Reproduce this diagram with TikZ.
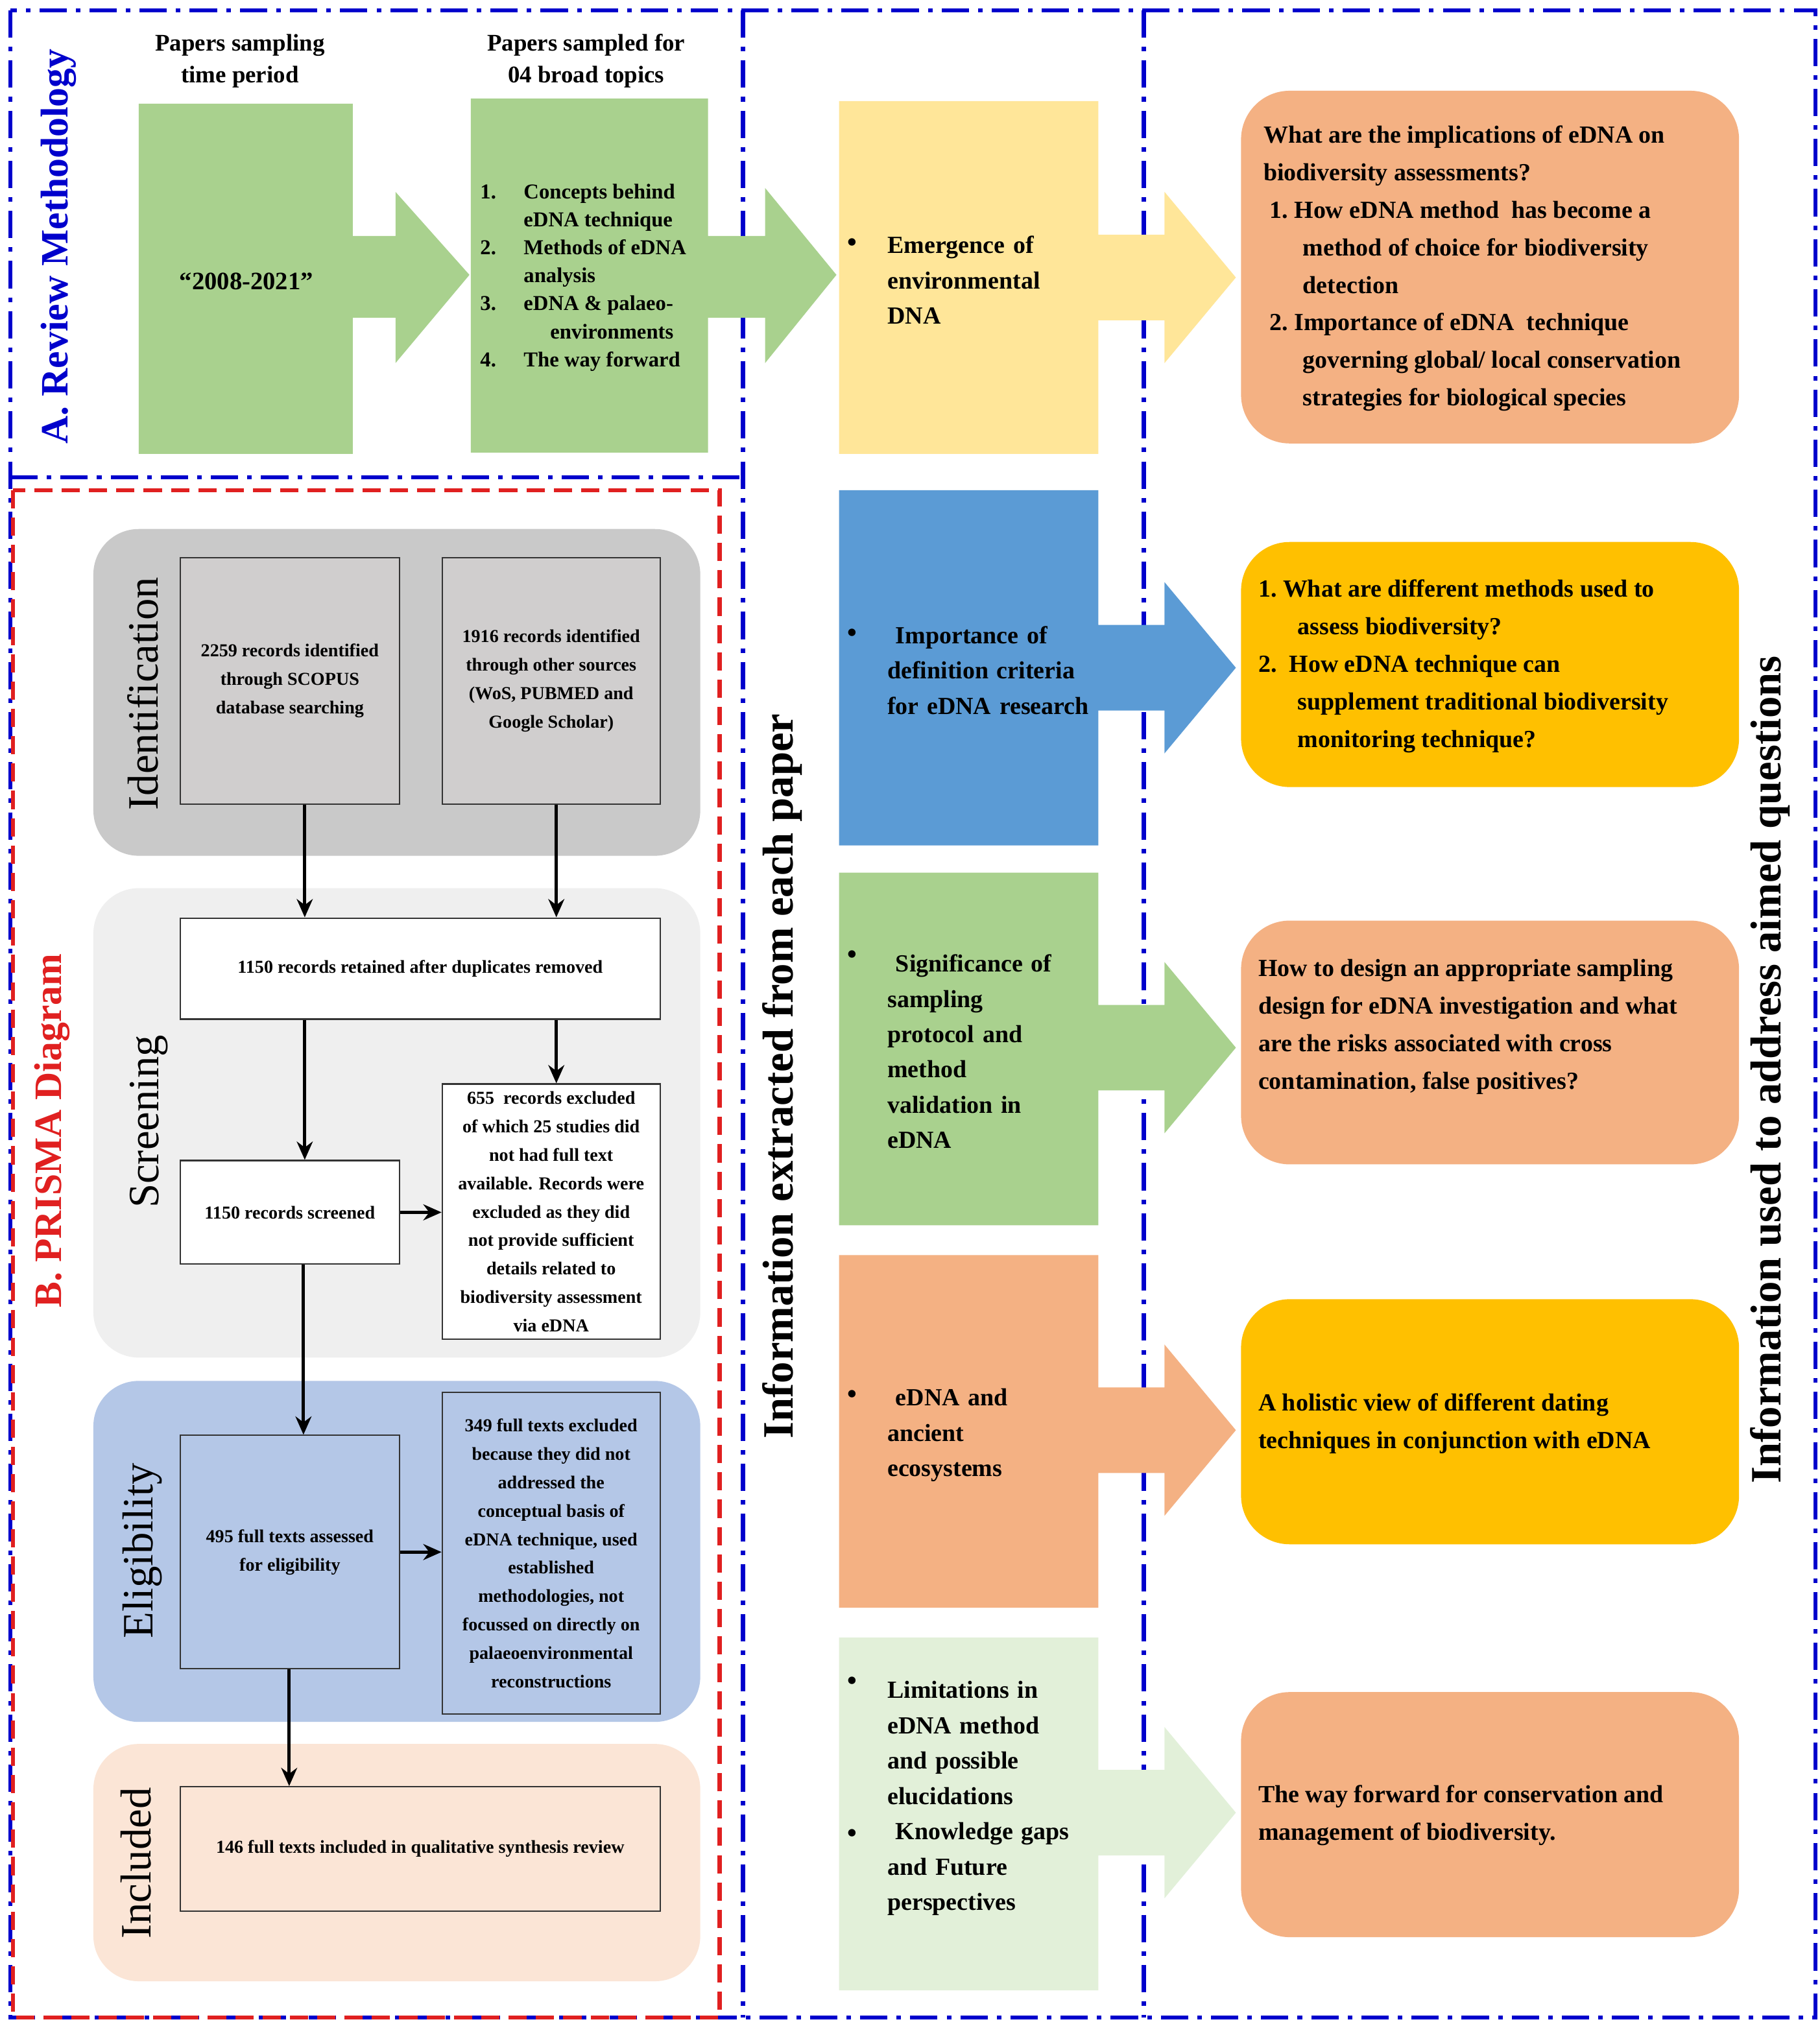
\documentclass[tikz,border=0pt]{standalone}
\usepackage{fontspec}
\setmainfont{Liberation Serif}
\usetikzlibrary{arrows.meta}
\definecolor{cgreen}{HTML}{A9D18E}
\definecolor{cyellow}{HTML}{FFE699}
\definecolor{cblue}{HTML}{5B9BD5}
\definecolor{corange}{HTML}{F4B183}
\definecolor{cgold}{HTML}{FFC000}
\definecolor{clgreen}{HTML}{E2F0D9}
\definecolor{fblue}{HTML}{0000CC}
\definecolor{fred}{HTML}{E02020}
\definecolor{bgray}{HTML}{C9C9C9}
\definecolor{blgray}{HTML}{EFEFEF}
\definecolor{bblue}{HTML}{B4C7E7}
\definecolor{bpeach}{HTML}{FBE5D6}
\definecolor{boxgray}{HTML}{D0CECE}
\begin{document}
\begin{tikzpicture}[x=0.02cm,y=-0.02cm,
  qt/.style={font=\bfseries\fontsize{10.8}{16.5}\selectfont,align=left,anchor=west,inner sep=0pt},
  col/.style={font=\bfseries\fontsize{10.8}{15.5}\selectfont,align=left,anchor=west,text width=3.3cm,inner sep=0pt},
  band/.style={rounded corners=0.7cm},
  pb/.style={draw=black!80,line width=0.6pt,font=\bfseries\fontsize{8}{12.5}\selectfont,align=center,inner sep=2pt},
  lab/.style={rotate=90,font=\fontsize{19}{22}\selectfont},
  arr/.style={-{Stealth[length=8pt,width=7pt]},line width=1.4pt},
  dd/.style={fblue,line width=1.8pt,dash pattern=on 12pt off 4pt on 2pt off 4pt}]
\useasboundingbox (0,0) rectangle (1403,1561);
\fill[white] (0,0) rectangle (1403,1561);
% frames
\draw[dd] (8,8) rectangle (1400,1556);
\draw[dd] (573,8) -- (573,1556);
\draw[dd] (882,8) -- (882,1556);
\draw[dd] (8,368) -- (573,368);
\draw[fred,line width=1.8pt,dash pattern=on 8pt off 4pt] (10,378) rectangle (555,1556);
\node[rotate=90,fblue,font=\bfseries\fontsize{17}{20}\selectfont] (ta) at (45,190) {A. Review Methodology};
\node[rotate=90,fred,font=\bfseries\fontsize{17}{20}\selectfont] (tb) at (40,872) {B. PRISMA Diagram};
\node[rotate=90,font=\bfseries\fontsize{19}{22}\selectfont] (ti) at (603,830) {Information extracted from each paper};
\node[rotate=90,font=\bfseries\fontsize{19}{22}\selectfont] (tq) at (1365,825) {Information used to address aimed questions};
% arrow boxes
\newcommand{\abox}[6]{% x1 y1 x2 y2 tipy color
 \fill[#6] (#1,#2) -- (#3,#2) -- (#3,#5-33) -- (#3+51,#5-33) -- (#3+51,#5-66) -- (#3+106,#5) -- (#3+51,#5+66) -- (#3+51,#5+33) -- (#3,#5+33) -- (#3,#4) -- (#1,#4) -- cycle;}
\fill[cgreen] (107,80) -- (272,80) -- (272,182) -- (305,182) -- (305,148) -- (362,212) -- (305,280) -- (305,245) -- (272,245) -- (272,350) -- (107,350) -- cycle;
\fill[cgreen] (363,76) -- (546,76) -- (546,182) -- (590,182) -- (590,145) -- (645,212) -- (590,280) -- (590,245) -- (546,245) -- (546,349) -- (363,349) -- cycle;
\abox{647}{78}{847}{350}{214}{cyellow}
\abox{647}{378}{847}{652}{515}{cblue}
\abox{647}{673}{847}{945}{808}{cgreen}
\abox{647}{968}{847}{1240}{1103}{corange}
\abox{647}{1263}{847}{1535}{1398}{clgreen}
\node[font=\bfseries\fontsize{10.5}{14}\selectfont,align=center] (h1) at (185,47) {Papers sampling\\time period};
\node[font=\bfseries\fontsize{10.5}{14}\selectfont,align=center] (h2) at (452,47) {Papers sampled for\\04 broad topics};
\node[font=\bfseries\fontsize{11}{14}\selectfont] (y) at (190,217) {“2008-2021”};
\node[font=\bfseries\fontsize{9.3}{12.3}\selectfont,anchor=west,align=left,inner sep=0pt] (topics) at (370,214) {1.\hspace{1.3em}Concepts behind\\\hspace{2.05em}eDNA technique\\2.\hspace{1.3em}Methods of eDNA\\\hspace{2.05em}analysis\\3.\hspace{1.3em}eDNA \& palaeo-\\\hspace{3.3em}environments\\4.\hspace{1.3em}The way forward};
% column texts
\newcommand{\bul}[1]{\node[font=\bfseries\large] at (657,#1) {•};}
\node[col] (c1) at (684,216) {Emergence of\\environmental\\DNA}; \bul{189}
\node[col] (c2) at (684,517) {\ Importance of\\definition criteria\\for eDNA research}; \bul{490}
\node[col] (c3) at (684,811) {\ Significance of\\sampling\\protocol and\\method\\validation in\\eDNA}; \bul{738}
\node[col] (c4) at (684,1107) {\ eDNA and\\ancient\\ecosystems}; \bul{1077}
\node[col] (c5) at (684,1387) {Limitations in\\eDNA method\\and possible\\elucidations\\\ Knowledge gaps\\and Future\\perspectives}; \bul{1298}\bul{1416}
% question boxes
\fill[corange,rounded corners=0.75cm] (957,70) rectangle (1341,342);
\fill[cgold,rounded corners=0.75cm] (957,418) rectangle (1341,607);
\fill[corange,rounded corners=0.75cm] (957,710) rectangle (1341,898);
\fill[cgold,rounded corners=0.75cm] (957,1002) rectangle (1341,1191);
\fill[corange,rounded corners=0.75cm] (957,1305) rectangle (1341,1494);
\node[qt] (q1) at (974,207) {What are the implications of eDNA on\\biodiversity assessments?\\\ 1.\ How eDNA method\ \ has become a\\\hspace{1.6em}method of choice for biodiversity\\\hspace{1.6em}detection\\\ 2.\ Importance of eDNA\ \ technique\\\hspace{1.6em}governing global/ local conservation\\\hspace{1.6em}strategies for biological species};
\node[qt] (q2) at (970,514) {1.\ What are different methods used to\\\hspace{1.6em}assess biodiversity?\\2.\ \ How eDNA technique can\\\hspace{1.6em}supplement traditional biodiversity\\\hspace{1.6em}monitoring technique?};
\node[qt] (q3) at (970,792) {How to design an appropriate sampling\\design for eDNA investigation and what\\are the risks associated with cross\\contamination, false positives?};
\node[qt] (q4) at (970,1098) {A holistic view of different dating\\techniques in conjunction with eDNA};
\node[qt] (q5) at (970,1400) {The way forward for conservation and\\management of biodiversity.};
% PRISMA bands
\fill[bgray,band] (72,408) rectangle (540,660);
\fill[blgray,band] (72,685) rectangle (540,1047);
\fill[bblue,band] (72,1065) rectangle (540,1328);
\fill[bpeach,band] (72,1345) rectangle (540,1528);
\node[lab] (l1) at (110,535) {Identification};
\node[lab] (l2) at (115,865) {Screening};
\node[lab] (l3) at (110,1196) {Eligibility};
\node[lab] (l4) at (105,1437) {Included};
% PRISMA boxes
\node[pb,fill=boxgray,minimum width=3.38cm,minimum height=3.8cm] (b1) at (223.5,525) {2259 records identified\\through SCOPUS\\database searching};
\node[pb,fill=boxgray,minimum width=3.36cm,minimum height=3.8cm] (b2) at (425,525) {1916 records identified\\through other sources\\(WoS, PUBMED and\\Google Scholar)};
\node[pb,fill=white,minimum width=7.4cm,minimum height=1.56cm] (b3) at (324,747) {1150 records retained after duplicates removed};
\node[pb,fill=white,minimum width=3.38cm,minimum height=1.6cm] (b4) at (223.5,935) {1150 records screened};
\node[pb,fill=white,minimum width=3.36cm,minimum height=3.94cm] (b5) at (425,934.5) {655\ \ records excluded\\of which 25 studies did\\not had full text\\available. Records were\\excluded as they did\\not provide sufficient\\details related to\\biodiversity assessment\\via eDNA};
\node[pb,fill=bblue,minimum width=3.38cm,minimum height=3.6cm] (b6) at (223.5,1197) {495 full texts assessed\\for eligibility};
\node[pb,fill=bblue,minimum width=3.36cm,minimum height=4.96cm] (b7) at (425,1198) {349 full texts excluded\\because they did not\\addressed the\\conceptual basis of\\eDNA technique, used\\established\\methodologies, not\\focussed on directly on\\palaeoenvironmental\\reconstructions};
\node[pb,fill=none,minimum width=7.4cm,minimum height=1.92cm] (b8) at (324,1426) {146 full texts included in qualitative synthesis review};
\draw[arr] (b1.south -| 235,0) -- (b3.north -| 235,0);
\draw[arr] (b2.south -| 429,0) -- (b3.north -| 429,0);
\draw[arr] (b3.south -| 235,0) -- (b4.north -| 235,0);
\draw[arr] (b3.south -| 429,0) -- (b5.north -| 429,0);
\draw[arr] (b4.east) -- (b5.west |- b4.east);
\draw[arr] (b4.south -| 234,0) -- (b6.north -| 234,0);
\draw[arr] (b6.east) -- (b7.west |- b6.east);
\draw[arr] (b6.south -| 223,0) -- (b8.north -| 223,0);
\end{tikzpicture}
\end{document}
